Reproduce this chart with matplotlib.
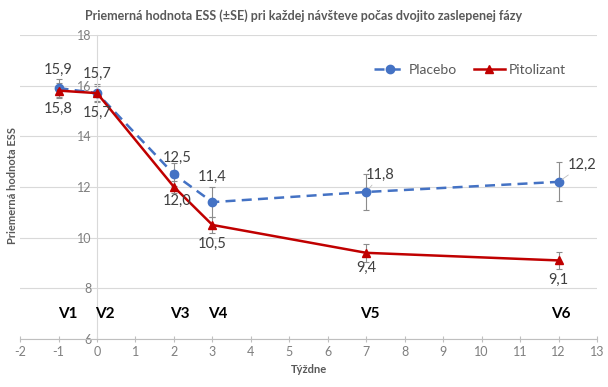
import numpy as np
import matplotlib
matplotlib.use("Agg")
import matplotlib.pyplot as plt

plt.rcParams['font.family'] = ['Lato', 'DejaVu Sans']
plt.rcParams['axes.unicode_minus'] = False

# data
weeks = [-1, 0, 2, 3, 7, 12]
placebo = [15.9, 15.7, 12.5, 11.4, 11.8, 12.2]
placebo_se = [0.35, 0.35, 0.45, 0.6, 0.72, 0.77]
pitolizant = [15.8, 15.7, 12.0, 10.5, 9.4, 9.1]
pitolizant_se = [0.3, 0.3, 0.25, 0.32, 0.35, 0.35]
visits = ['V1', 'V2', 'V3', 'V4', 'V5', 'V6']
visit_x = [-0.75, 0.2, 2.15, 3.15, 7.1, 12.05]

blue = '#4472C4'
red = '#C00000'
grey = '#595959'

fig = plt.figure(figsize=(6.08, 3.87), dpi=100)
ax = fig.add_axes([0.033, 0.124, 0.949, 0.786])

# error bars
ax.errorbar(weeks, placebo, yerr=placebo_se, fmt='none', ecolor='#8c8c8c',
            elinewidth=0.8, capsize=2, capthick=0.8, zorder=2)
ax.errorbar(weeks, pitolizant, yerr=pitolizant_se, fmt='none', ecolor='#8c8c8c',
            elinewidth=0.8, capsize=2, capthick=0.8, zorder=2)

ax.plot(weeks, placebo, color=blue, ls=(0, (4, 2.5)), lw=1.8, marker='o',
        ms=6, label='Placebo', zorder=3)
ax.plot(weeks, pitolizant, color=red, lw=1.8, marker='^', ms=6,
        label='Pitolizant', zorder=4)

# data labels (offsets in points)
pl_off = [(0, 13), (0, 14), (2, 12), (0, 18), (10, 12), (17, 12)]
pi_off = [(0, -13), (0, -14), (2, -10), (0, -14), (0, -11), (0, -14)]
for x, y, o in zip(weeks, placebo, pl_off):
    lead = o[0] > 5
    ax.annotate(f'{y:.1f}'.replace('.', ','), (x, y), xytext=o,
                textcoords='offset points', ha='center', va='center',
                fontsize=10.5, color='#404040', zorder=5,
                arrowprops=dict(arrowstyle='-', color='#bfbfbf', lw=0.6,
                                shrinkA=0, shrinkB=3) if lead else None)
for x, y, o in zip(weeks, pitolizant, pi_off):
    ax.annotate(f'{y:.1f}'.replace('.', ','), (x, y), xytext=o,
                textcoords='offset points', ha='center', va='center',
                fontsize=10.5, color='#404040', zorder=5)

for v, x in zip(visits, visit_x):
    ax.text(x, 7, v, ha='center', va='center', fontsize=11,
            fontweight='bold', color='black')

ax.set_xlim(-2, 13)
ax.set_ylim(6, 18)
ax.set_xticks(np.arange(-2, 14, 1))
ax.set_yticks(np.arange(6, 19, 2))
ax.grid(axis='y', color='#d9d9d9', lw=0.8)
ax.set_axisbelow(True)

for s in ['top', 'right']:
    ax.spines[s].set_visible(False)
ax.spines['left'].set_position(('data', 0))
ax.spines['left'].set_color('#d9d9d9')
ax.spines['bottom'].set_color('#bfbfbf')
ax.tick_params(axis='y', length=0, labelsize=9, colors='#7f7f7f', pad=4)
ax.tick_params(axis='x', length=4, direction='inout', color='#bfbfbf',
               labelsize=9, labelcolor='#7f7f7f', pad=3)

ax.set_xlabel('Týždne', fontsize=8, fontweight='bold', color=grey, labelpad=4)
fig.text(0.02, 0.52, 'Priemerná hodnota ESS', rotation=90, ha='center',
         va='center', fontsize=8, fontweight='bold', color=grey)
fig.suptitle('Priemerná hodnota ESS (±SE) pri každej návšteve počas dvojito zaslepenej fázy',
             fontsize=9, fontweight='bold', color=grey, y=0.975)

ax.legend(loc='center', bbox_to_anchor=(0.78, 0.885), ncol=2, frameon=False,
          fontsize=10, handlelength=2.2, columnspacing=1.2, handletextpad=0.3,
          labelcolor='#595959')

fig.savefig('out.png', dpi=100)
